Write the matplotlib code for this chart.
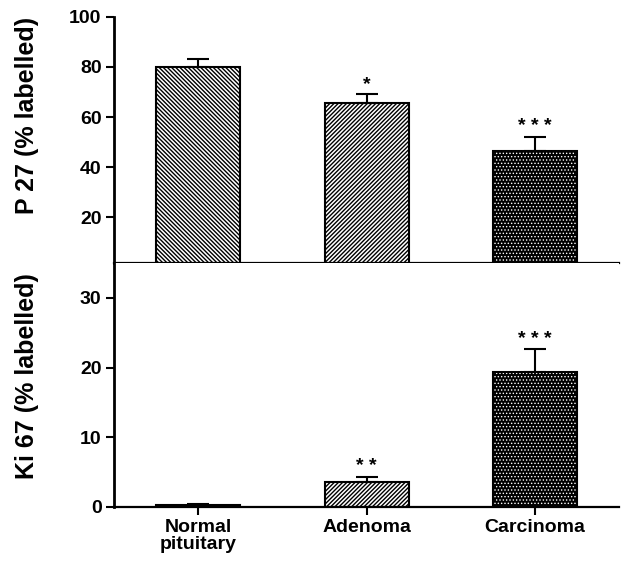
import numpy as np
import matplotlib.pyplot as plt

## Data
groups = ["Normal\npituitary", "Adenoma", "Carcinoma"]
p27_mean = [80, 65.5, 46.5]
p27_err = [3, 3.6, 5.7]
p27_sig = ["", "*", "* * *"]
ki67_mean = [0.3, 3.6, 19.4]
ki67_err = [0.1, 0.75, 3.2]
ki67_sig = ["", "* *", "* * *"]

hatches = ["\\" * 8, "/" * 8, "....."]
faces = ["white", "white", "black"]
hatch_cols = ["black", "black", "white"]
hatch_lw = [1.0, 1.0, 0.6]

plt.rcParams['font.family'] = ['Liberation Sans', 'DejaVu Sans']

fig = plt.figure(figsize=(6.23, 5.62), dpi=100)
ax1 = fig.add_axes([0.183, 0.532, 0.811, 0.438])
ax2 = fig.add_axes([0.183, 0.098, 0.811, 0.434])

x = np.arange(len(groups))
w = 0.50


def draw_panel(ax, means, errs, sigs, ylim, ticks, star_gap):
    for i in range(len(x)):
        # hatch layer first, outline drawn over it
        with plt.rc_context({'hatch.linewidth': hatch_lw[i]}):
            b = ax.bar(x[i], means[i], w, color=faces[i], hatch=hatches[i],
                       edgecolor=hatch_cols[i], linewidth=0, zorder=2)
        if hasattr(b[0], "set_hatch_linewidth"):
            b[0].set_hatch_linewidth(hatch_lw[i])
        ax.bar(x[i], means[i], w, fill=False, edgecolor="black",
               linewidth=1.5, zorder=3)
    ax.errorbar(x, means, yerr=[np.zeros(len(errs)), errs], fmt="none",
                ecolor="black", elinewidth=1.5, capsize=8, capthick=1.5, zorder=4)
    for i, s in enumerate(sigs):
        if s:
            ax.text(x[i], means[i] + errs[i] + star_gap, s, ha="center",
                    va="bottom", fontsize=14, fontweight="bold")
    ax.set_xlim(-0.5, 2.5)
    ax.set_ylim(*ylim)
    ax.set_yticks(ticks)
    for sp in ["top", "right"]:
        ax.spines[sp].set_visible(False)
    ax.spines["left"].set_linewidth(2)
    ax.spines["bottom"].set_linewidth(1.6)
    ax.tick_params(axis="y", direction="out", length=6, width=1.5,
                   labelsize=14, pad=3)
    for lb in ax.get_yticklabels():
        lb.set_fontweight("bold")


draw_panel(ax1, p27_mean, p27_err, p27_sig, (1.7, 100), [20, 40, 60, 80, 100], 0.5)
ax1.set_xticks([])

draw_panel(ax2, ki67_mean, ki67_err, ki67_sig, (0, 35), [0, 10, 20, 30], 0.2)
ax2.set_xticks(x)
ax2.set_xticklabels(groups, fontsize=14, fontweight="bold", linespacing=0.95)
ax2.tick_params(axis="x", direction="out", length=6, width=1.5, pad=3)

fig.text(0.043, 0.795, "P 27 (% labelled)", rotation=90, ha="center",
         va="center", fontsize=18, fontweight="bold")
fig.text(0.043, 0.33, "Ki 67 (% labelled)", rotation=90, ha="center",
         va="center", fontsize=18, fontweight="bold")

fig.savefig("out.png", dpi=100)
